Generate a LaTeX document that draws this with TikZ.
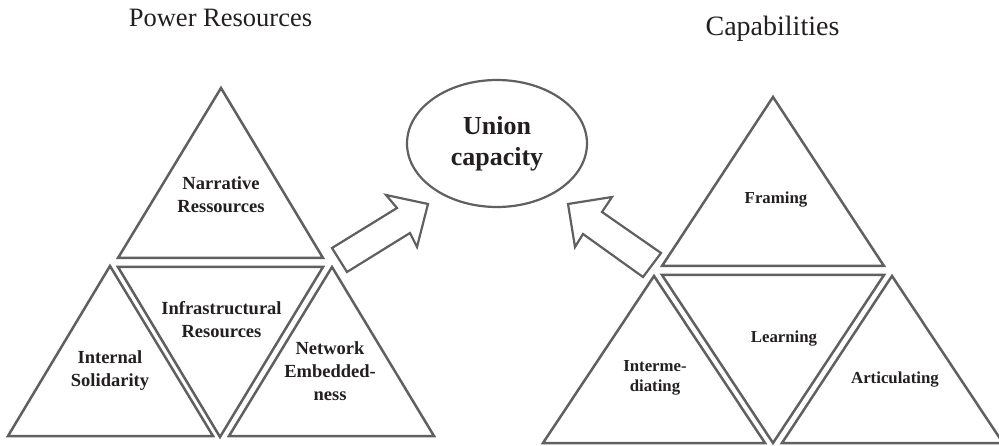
\documentclass[tikz,border=0pt]{standalone}
\usepackage{fontspec}
\setmainfont{Liberation Serif}
\usetikzlibrary{shapes.geometric}
\definecolor{linegray}{HTML}{606060}
\definecolor{inkc}{HTML}{231F20}
\tikzset{
  tri/.style={draw=linegray, line width=2.5pt, line join=miter},
  arr/.style={draw=linegray, line width=2.2pt, line join=miter, fill=white},
  lbl/.style={text=inkc, align=center, inner sep=0pt, font=\fontsize{18.5}{23}\selectfont\bfseries},
  lbls/.style={text=inkc, align=center, inner sep=0pt, font=\fontsize{16.8}{20}\selectfont\bfseries},
  ttl/.style={text=inkc, inner sep=0pt, anchor=base}
}
\begin{document}
\begin{tikzpicture}[x=1pt,y=-1pt]
\useasboundingbox (0,0) rectangle (999,446);
% titles
\node[ttl, font=\fontsize{26.5}{30}\selectfont] (t1) at (220.5,27) {Power Resources};
\node[ttl, font=\fontsize{28}{32}\selectfont] (t2) at (772.5,36) {Capabilities};
% left group
\draw[tri] (221,88) -- (323,258) -- (118,258) -- cycle;
\draw[tri] (110,266) -- (213,436) -- (8,436) -- cycle;
\draw[tri] (118,267) -- (323,267) -- (220,437) -- cycle;
\draw[tri] (332,267) -- (434,436) -- (229,436) -- cycle;
\node[lbl] (nr) at (221,195) {Narrative\\Ressources};
\node[lbl] (ir) at (221.5,319.5) {Infrastructural\\Resources};
\node[lbl] (is) at (110,371) {Internal\\Solidarity};
\node[lbl] (ne) at (330,371.5) {Network\\Embedded-\\ness};
% right group
\draw[tri] (773,97) -- (884,266) -- (662,266) -- cycle;
\draw[tri] (654,276) -- (765,443) -- (543,443) -- cycle;
\draw[tri] (662,275) -- (884,275) -- (773,443) -- cycle;
\draw[tri] (892,276) -- (1003,443) -- (782,443) -- cycle;
\node[lbls, anchor=base] (fr) at (776,204) {Framing};
\node[lbls, anchor=base] (le) at (784,343) {Learning};
\node[lbls, anchor=base] (ar) at (895,383) {Articulating};
\node[lbls] (im) at (655,378) {Interme-\\diating};
% centre
\node[ellipse, draw=linegray, line width=2.2pt, minimum width=180pt, minimum height=127pt, inner sep=0pt, text=inkc, align=center, font=\fontsize{26}{31}\selectfont\bfseries] (uc) at (497,143.5) {Union\\capacity};
% block arrows
\draw[arr] (332,248) -- (397,208) -- (386,195) -- (428,204) -- (417,247) -- (410,233) -- (347,272) -- cycle;
\draw[arr] (568,204) -- (612,197) -- (602,212) -- (661,253) -- (643,277) -- (583,234) -- (575,247) -- cycle;
\end{tikzpicture}
\end{document}
